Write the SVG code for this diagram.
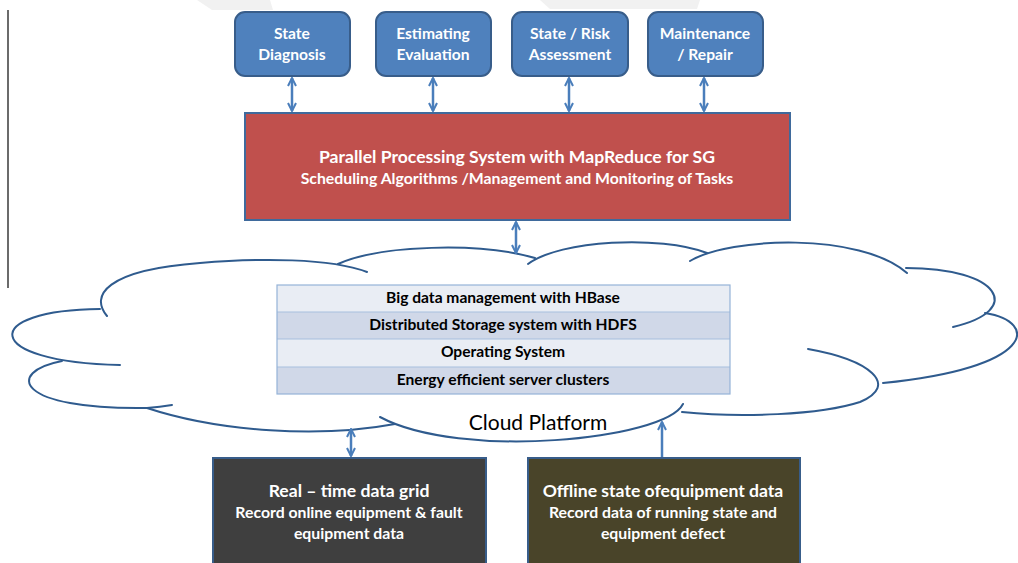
<svg xmlns="http://www.w3.org/2000/svg" width="1018" height="563" viewBox="0 0 1018 563">
<style>
.t{font-family:Lato,"Liberation Sans",sans-serif;font-weight:bold;text-anchor:middle}
.w{fill:#ffffff}
.k{fill:#000000}
.top{fill:#4F81BD;stroke:#385D8A;stroke-width:2}
.cl{fill:none;stroke:#2F5B8E;stroke-width:2;stroke-linecap:round}
.ar{stroke:#4A7EBB;stroke-width:2.5;fill:none}
.row1{fill:#E9EDF4}
.row2{fill:#D0D8E8}
</style>
<defs>
<marker id="ah" viewBox="0 0 10 10" refX="9" refY="5" markerWidth="10" markerHeight="10" markerUnits="userSpaceOnUse" orient="auto-start-reverse">
<path d="M1,1 L9,5 L1,9" fill="none" stroke="#4A7EBB" stroke-width="2"/>
</marker>
</defs>
<rect width="1018" height="563" fill="#ffffff"/>
<g id="watermark" fill="#F1F1F1">
<polygon points="197,0 270,0 273,10 212,10"/>
<polygon points="540,0 700,0 697,9 550,9"/>
</g>
<line x1="8" y1="10" x2="8" y2="288" stroke="#3a3a3a" stroke-width="1.5"/>

<g id="cloud">
<path class="cl" d="M107,316 C90,296 105,270 200,263 C260,258 330,258 367,272"/>
<path class="cl" d="M338,264 C380,245 480,242 535,258"/>
<path class="cl" d="M528,264 C560,240 660,235 707,253"/>
<path class="cl" d="M690,261 C730,237 860,232 907,273"/>
<path class="cl" d="M906,268 C1000,268 1025,310 953,327"/>
<path class="cl" d="M985,313 C1040,322 1035,368 883,383"/>
<path class="cl" d="M808,349 C870,360 900,385 860,402 C820,415 740,418 682,412"/>
<path class="cl" d="M683,404 C665,440 460,460 380,417"/>
<path class="cl" d="M147,408 C220,432 320,438 395,424"/>
<path class="cl" d="M62,361 C5,372 15,410 147,408 Q160,407 172,405"/>
<path class="cl" d="M100,309 C-20,310 -20,362 120,365"/>
<text class="t k" x="538" y="430" style="font-weight:normal" font-size="21">Cloud Platform</text>
</g>

<g id="stack">
<rect class="row1" x="277" y="285" width="453" height="27"/>
<rect class="row2" x="277" y="312" width="453" height="27"/>
<rect class="row1" x="277" y="339" width="453" height="28"/>
<rect class="row2" x="277" y="367" width="453" height="27"/>
<g stroke="#A7BFDE" stroke-width="1">
<line x1="277" y1="312" x2="730" y2="312"/>
<line x1="277" y1="339" x2="730" y2="339"/>
<line x1="277" y1="367" x2="730" y2="367"/>
</g>
<rect x="277" y="285" width="453" height="109" fill="none" stroke="#95B3D7" stroke-width="1.2"/>
<text class="t k" x="503" y="303" font-size="15.6">Big data management with HBase</text>
<text class="t k" x="503" y="330" font-size="15.6">Distributed Storage system with HDFS</text>
<text class="t k" x="503" y="357" font-size="15.6">Operating System</text>
<text class="t k" x="503" y="385" font-size="15.6">Energy efficient server clusters</text>
</g>

<g id="state-diagnosis">
<rect class="top" x="235" y="12" width="115" height="64" rx="10"/>
<text class="t w" x="292" y="39" font-size="15.6">State</text>
<text class="t w" x="292" y="60" font-size="15.6">Diagnosis</text>
</g>
<g id="estimating-evaluation">
<rect class="top" x="376" y="12" width="115" height="64" rx="10"/>
<text class="t w" x="433" y="39" font-size="15.6">Estimating</text>
<text class="t w" x="433" y="60" font-size="15.6">Evaluation</text>
</g>
<g id="state-risk">
<rect class="top" x="512" y="12" width="116" height="64" rx="10"/>
<text class="t w" x="570" y="39" font-size="15.6">State / Risk</text>
<text class="t w" x="570" y="60" font-size="15.6">Assessment</text>
</g>
<g id="maintenance">
<rect class="top" x="648" y="12" width="115" height="64" rx="10"/>
<text class="t w" x="705" y="39" font-size="15.6">Maintenance</text>
<text class="t w" x="705" y="60" font-size="15.6">/ Repair</text>
</g>

<g id="mapreduce">
<rect x="245" y="113" width="545" height="107" fill="#C0504D" stroke="#3F6A9C" stroke-width="2"/>
<text class="t w" x="517" y="163" font-size="17.6">Parallel Processing System with MapReduce for SG</text>
<text class="t w" x="517" y="184" font-size="15.8">Scheduling Algorithms /Management and Monitoring of Tasks</text>
</g>

<g id="realtime">
<rect x="213" y="458" width="273" height="110" fill="#3F3F3F" stroke="#385D8A" stroke-width="2"/>
<text class="t w" x="349" y="497" font-size="17.6">Real – time data grid</text>
<text class="t w" x="349" y="518" font-size="15.8">Record online equipment &amp; fault</text>
<text class="t w" x="349" y="539" font-size="15.8">equipment data</text>
</g>
<g id="offline">
<rect x="528" y="458" width="272" height="110" fill="#494429" stroke="#385D8A" stroke-width="2"/>
<text class="t w" x="663" y="497" font-size="17.6">Offline state ofequipment data</text>
<text class="t w" x="663" y="518" font-size="15.8">Record data of running state and</text>
<text class="t w" x="663" y="539" font-size="15.8">equipment defect</text>
</g>

<g id="connectors">
<line class="ar" x1="292" y1="78" x2="292" y2="111" marker-start="url(#ah)" marker-end="url(#ah)"/>
<line class="ar" x1="433" y1="78" x2="433" y2="111" marker-start="url(#ah)" marker-end="url(#ah)"/>
<line class="ar" x1="569" y1="78" x2="569" y2="111" marker-start="url(#ah)" marker-end="url(#ah)"/>
<line class="ar" x1="704" y1="78" x2="704" y2="111" marker-start="url(#ah)" marker-end="url(#ah)"/>
<line class="ar" x1="516" y1="222" x2="516" y2="253" marker-start="url(#ah)" marker-end="url(#ah)"/>
<line class="ar" x1="351" y1="429" x2="351" y2="456" marker-start="url(#ah)" marker-end="url(#ah)"/>
<line class="ar" x1="662" y1="457" x2="662" y2="422" marker-end="url(#ah)"/>
</g>
</svg>
